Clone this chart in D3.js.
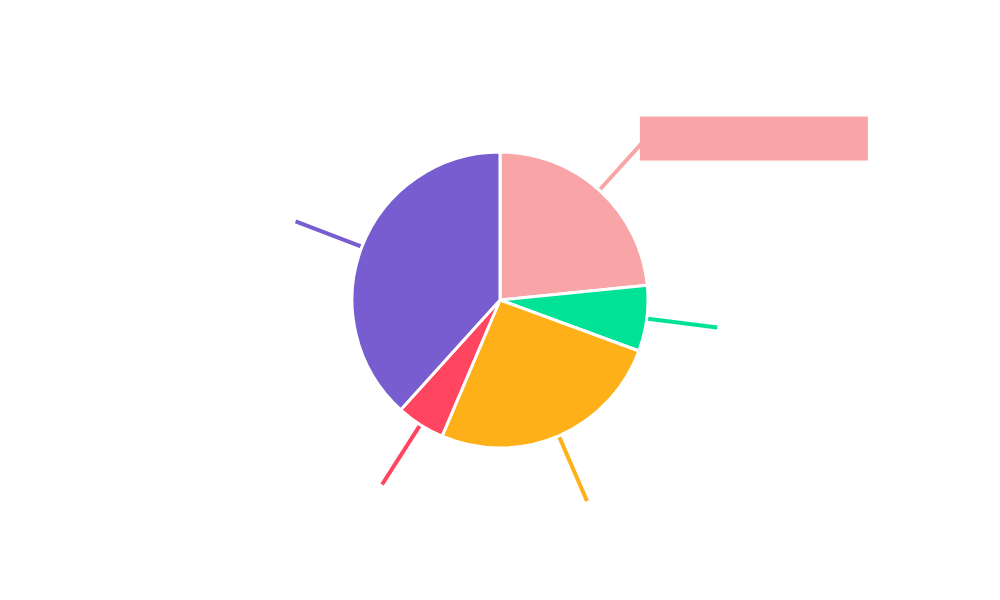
<!DOCTYPE html>
<html lang="en">
<head>
    <meta charset="UTF-8">
    <title>Pie</title>
    <style>
      body { margin: 0; background: #fff; }
    </style>
</head>
<body>
<svg height="600" width="1000"></svg>

<script src="https://d3js.org/d3.v7.min.js"></script>
<script>

  var categories = ['A', 'B', 'C', 'D', 'E'];
  var values = [23.4, 7.2, 25.8, 5.3, 38.3];
  var colors = ['#F9A4A6', '#00E396', '#FEB019', '#FF4560', '#775DD0'];

  var radius = 148;
  var svg = d3.select("svg")
    .append("g")
    .attr("transform", "translate(500,300)");

  var pie = d3.pie().sort(null).value(function(d) { return d.value; });
  var data = pie(categories.map(function(c, i) {
      return {name: c, value: values[i], color: colors[i]};
  }));

  var arc = d3.arc().innerRadius(0).outerRadius(radius);
  var lineInner = d3.arc().innerRadius(radius + 1).outerRadius(radius + 1);
  var lineOuter = d3.arc().innerRadius(radius + 71).outerRadius(radius + 71);

  // label connector lines
  svg.selectAll(".leader")
    .data(data)
    .enter()
    .append("line")
    .attr("x1", function(d) { return lineInner.centroid(d)[0]; })
    .attr("y1", function(d) { return lineInner.centroid(d)[1]; })
    .attr("x2", function(d) { return lineOuter.centroid(d)[0]; })
    .attr("y2", function(d) { return lineOuter.centroid(d)[1]; })
    .attr("stroke", function(d) { return d.data.color; })
    .attr("stroke-width", 4);

  svg.selectAll(".slice")
    .data(data)
    .enter()
    .append("path")
    .attr("d", arc)
    .attr("fill", function(d) { return d.data.color; })
    .attr("stroke", "#fff")
    .attr("stroke-width", 3)
    .attr("stroke-linejoin", "round");

  // highlighted label box on first slice
  var first = data[0];
  var p = lineOuter.centroid(first);
  svg.append("rect")
    .attr("x", p[0] - 7)
    .attr("y", p[1] - 21)
    .attr("width", 228)
    .attr("height", 44)
    .attr("fill", first.data.color);

</script>
</body>
</html>
